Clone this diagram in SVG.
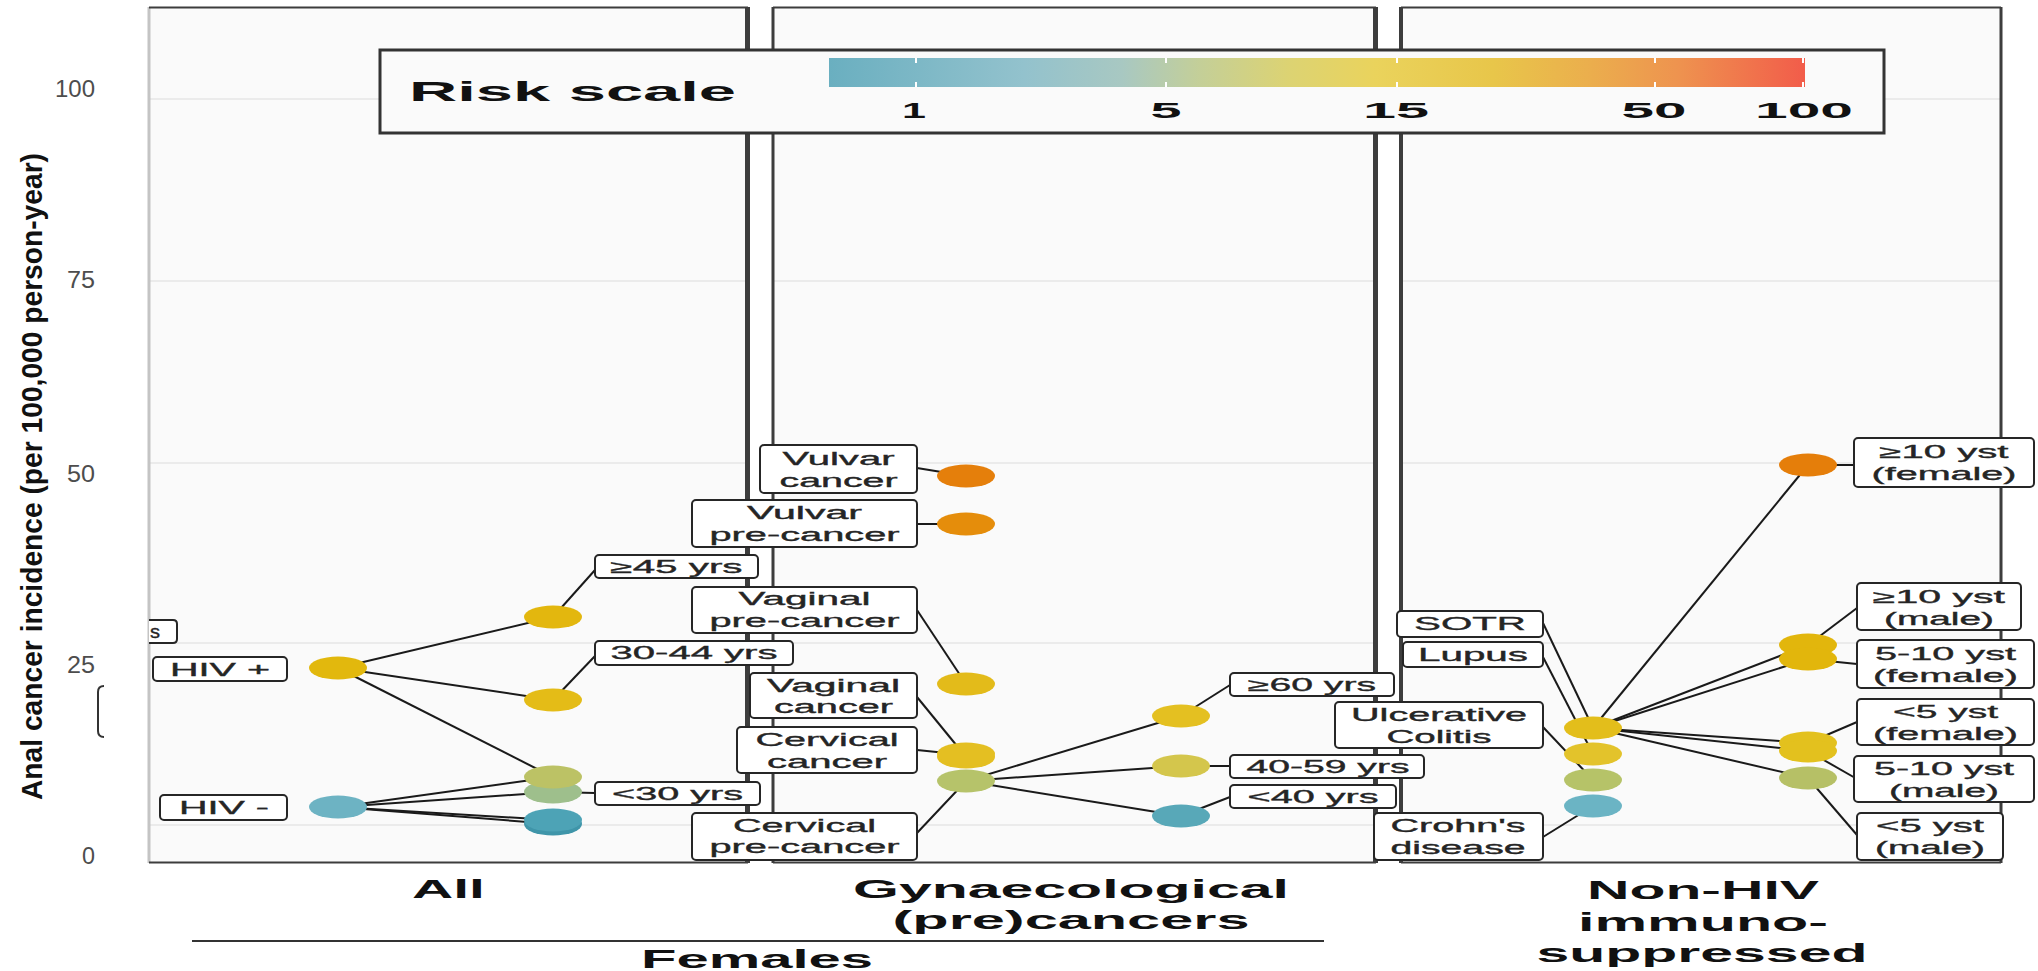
<svg xmlns="http://www.w3.org/2000/svg" width="2038" height="971" viewBox="0 0 2038 971">
<style>
.bg{fill:#FAFAFA}
.grid line{stroke:#EBEBEB;stroke-width:2}
.bd{stroke:#3d3d3d;fill:none}
.lbl{fill:#ffffff;stroke:#262626;stroke-width:2}
.t{font-family:"Liberation Sans",Arial,sans-serif;font-size:18px;fill:#252525;stroke:#252525;stroke-width:0.35;text-anchor:middle}
.tick{font-family:"Liberation Sans",Arial,sans-serif;font-size:23px;fill:#4d4d4d;text-anchor:end}
.b{font-family:"Liberation Sans",Arial,sans-serif;font-weight:bold;fill:#111111}
.cx line{stroke:#1a1a1a;stroke-width:2}
.wt{stroke:#ffffff;stroke-width:2}
</style>
<defs>
<linearGradient id="risk" x1="0" y1="0" x2="1" y2="0">
<stop offset="0" stop-color="#6AAFC0"/>
<stop offset="0.2" stop-color="#93C2CD"/>
<stop offset="0.3" stop-color="#A8C8C2"/>
<stop offset="0.38" stop-color="#C4CF98"/>
<stop offset="0.47" stop-color="#DCD373"/>
<stop offset="0.56" stop-color="#EAD35C"/>
<stop offset="0.68" stop-color="#E8C64A"/>
<stop offset="0.78" stop-color="#EBAE4D"/>
<stop offset="0.87" stop-color="#EE934F"/>
<stop offset="1" stop-color="#F25C4A"/>
</linearGradient>
</defs>
<rect width="2038" height="971" fill="#ffffff"/>

<g id="panels">
<rect class="bg" x="149" y="7" width="599" height="856"/>
<rect class="bg" x="773" y="7" width="603" height="856"/>
<rect class="bg" x="1401" y="7" width="600" height="856"/>
<g class="grid">
<line x1="150" y1="99" x2="746" y2="99"/><line x1="150" y1="281" x2="746" y2="281"/><line x1="150" y1="463" x2="746" y2="463"/><line x1="150" y1="643" x2="746" y2="643"/><line x1="150" y1="825" x2="746" y2="825"/>
<line x1="774" y1="99" x2="1374" y2="99"/><line x1="774" y1="281" x2="1374" y2="281"/><line x1="774" y1="463" x2="1374" y2="463"/><line x1="774" y1="643" x2="1374" y2="643"/><line x1="774" y1="825" x2="1374" y2="825"/>
<line x1="1402" y1="99" x2="2000" y2="99"/><line x1="1402" y1="281" x2="2000" y2="281"/><line x1="1402" y1="463" x2="2000" y2="463"/><line x1="1402" y1="643" x2="2000" y2="643"/><line x1="1402" y1="825" x2="2000" y2="825"/>
</g>
<line x1="149" y1="7" x2="149" y2="863" stroke="#c4c4c4" stroke-width="3"/>
<line class="bd" x1="149" y1="7.5" x2="748" y2="7.5" stroke-width="2"/>
<line class="bd" x1="149" y1="862.5" x2="748" y2="862.5" stroke-width="2"/>
<line class="bd" x1="747.5" y1="7" x2="747.5" y2="863" stroke-width="5" stroke="#4a4a4a"/>
<line class="bd" x1="773" y1="7.5" x2="1376" y2="7.5" stroke-width="2"/>
<line class="bd" x1="773" y1="862.5" x2="1376" y2="862.5" stroke-width="2"/>
<line class="bd" x1="773" y1="7" x2="773" y2="863" stroke-width="3" stroke="#222"/>
<line class="bd" x1="1375.5" y1="7" x2="1375.5" y2="863" stroke-width="5" stroke="#4a4a4a"/>
<line class="bd" x1="1401" y1="7.5" x2="2001" y2="7.5" stroke-width="2"/>
<line class="bd" x1="1401" y1="862.5" x2="2001" y2="862.5" stroke-width="2"/>
<line class="bd" x1="1401" y1="7" x2="1401" y2="863" stroke-width="4" stroke="#222"/>
<line class="bd" x1="2001" y1="7" x2="2001" y2="863" stroke-width="3" stroke="#555"/>
</g>

<g id="y-axis">
<text class="tick" x="95" y="97" textLength="40" lengthAdjust="spacingAndGlyphs">100</text>
<text class="tick" x="95" y="288" textLength="28" lengthAdjust="spacingAndGlyphs">75</text>
<text class="tick" x="95" y="482" textLength="28" lengthAdjust="spacingAndGlyphs">50</text>
<text class="tick" x="95" y="673" textLength="28" lengthAdjust="spacingAndGlyphs">25</text>
<text class="tick" x="95" y="864" textLength="13" lengthAdjust="spacingAndGlyphs">0</text>
<text class="b" transform="translate(42,476.5) rotate(-90)" font-size="29" text-anchor="middle" textLength="647" lengthAdjust="spacingAndGlyphs">Anal cancer incidence (per 100,000 person-year)</text>
<path d="M104,686 Q98,686 98,692 V731 Q98,737 104,737" fill="none" stroke="#333" stroke-width="2"/>
</g>

<g id="legend">
<rect x="380" y="50" width="1504" height="83" fill="#FAFAFA" stroke="#333" stroke-width="3"/>
<text class="b" x="409" y="101" font-size="28" textLength="327" lengthAdjust="spacingAndGlyphs">Risk scale</text>
<rect x="829" y="58" width="976" height="29" fill="url(#risk)"/>
<line class="wt" x1="916" y1="58" x2="916" y2="63"/><line class="wt" x1="916" y1="82" x2="916" y2="87"/>
<line class="wt" x1="1166" y1="58" x2="1166" y2="63"/><line class="wt" x1="1166" y1="82" x2="1166" y2="87"/>
<line class="wt" x1="1397" y1="58" x2="1397" y2="63"/><line class="wt" x1="1397" y1="82" x2="1397" y2="87"/>
<line class="wt" x1="1655" y1="58" x2="1655" y2="63"/><line class="wt" x1="1655" y1="82" x2="1655" y2="87"/>
<line class="wt" x1="1803" y1="58" x2="1803" y2="63"/><line class="wt" x1="1803" y1="82" x2="1803" y2="87"/>
<text class="b" x="914" y="118" font-size="22" text-anchor="middle" textLength="24" lengthAdjust="spacingAndGlyphs">1</text>
<text class="b" x="1166" y="118" font-size="22" text-anchor="middle" textLength="31" lengthAdjust="spacingAndGlyphs">5</text>
<text class="b" x="1396" y="118" font-size="22" text-anchor="middle" textLength="66" lengthAdjust="spacingAndGlyphs">15</text>
<text class="b" x="1654" y="118" font-size="22" text-anchor="middle" textLength="65" lengthAdjust="spacingAndGlyphs">50</text>
<text class="b" x="1804" y="118" font-size="22" text-anchor="middle" textLength="98" lengthAdjust="spacingAndGlyphs">100</text>
</g>

<g id="connectors" class="cx">
<line x1="338" y1="668" x2="553" y2="617"/>
<line x1="338" y1="668" x2="553" y2="700"/>
<line x1="338" y1="668" x2="553" y2="777"/>
<line x1="338" y1="807" x2="553" y2="777"/>
<line x1="338" y1="807" x2="553" y2="792"/>
<line x1="338" y1="807" x2="553" y2="820"/>
<line x1="338" y1="807" x2="553" y2="824"/>
<line x1="595" y1="570" x2="553" y2="617"/>
<line x1="595" y1="656" x2="553" y2="700"/>
<line x1="595" y1="793" x2="553" y2="792"/>
<line x1="917" y1="468" x2="966" y2="476"/>
<line x1="917" y1="524" x2="966" y2="524"/>
<line x1="917" y1="610" x2="966" y2="684"/>
<line x1="917" y1="697" x2="966" y2="757"/>
<line x1="917" y1="750" x2="966" y2="755"/>
<line x1="917" y1="833" x2="966" y2="781"/>
<line x1="966" y1="781" x2="1181" y2="716"/>
<line x1="966" y1="781" x2="1181" y2="766"/>
<line x1="966" y1="781" x2="1181" y2="816"/>
<line x1="1230" y1="685" x2="1181" y2="716"/>
<line x1="1230" y1="766" x2="1181" y2="766"/>
<line x1="1230" y1="797" x2="1181" y2="816"/>
<line x1="1543" y1="623" x2="1593" y2="728"/>
<line x1="1543" y1="657" x2="1593" y2="754"/>
<line x1="1543" y1="727" x2="1593" y2="780"/>
<line x1="1543" y1="837" x2="1593" y2="806"/>
<line x1="1593" y1="728" x2="1808" y2="465"/>
<line x1="1593" y1="728" x2="1808" y2="645"/>
<line x1="1593" y1="728" x2="1808" y2="659"/>
<line x1="1593" y1="728" x2="1808" y2="743"/>
<line x1="1593" y1="728" x2="1808" y2="751"/>
<line x1="1593" y1="728" x2="1808" y2="778"/>
<line x1="1808" y1="465" x2="1854" y2="465"/>
<line x1="1857" y1="608" x2="1808" y2="645"/>
<line x1="1808" y1="659" x2="1857" y2="664"/>
<line x1="1857" y1="722" x2="1808" y2="743"/>
<line x1="1808" y1="751" x2="1857" y2="779"/>
<line x1="1808" y1="778" x2="1857" y2="835"/>
</g>

<g id="n-clipped">
<path d="M149,620 H173 Q177,620 177,624 V639 Q177,643 173,643 H149" fill="#fff" stroke="#262626" stroke-width="2"/>
<text class="t" x="150" y="638" style="text-anchor:start" textLength="10" lengthAdjust="spacingAndGlyphs">s</text>
</g>
<g id="n-hiv-pos">
<ellipse cx="338" cy="668" rx="29" ry="11.5" fill="#E2B80D"/>
<rect class="lbl" x="153" y="657" width="134" height="24" rx="4"/>
<text class="t" x="220" y="676" textLength="100" lengthAdjust="spacingAndGlyphs">HIV +</text>
</g>
<g id="n-hiv-neg">
<ellipse cx="338" cy="807" rx="29" ry="11.5" fill="#6DB3C3"/>
<rect class="lbl" x="160" y="795" width="127" height="25" rx="4"/>
<text class="t" x="224" y="814" textLength="90" lengthAdjust="spacingAndGlyphs">HIV -</text>
</g>
<g id="n-age45">
<ellipse cx="553" cy="617" rx="29" ry="11.5" fill="#E3B70E"/>
<rect class="lbl" x="595" y="555" width="163" height="23" rx="4"/>
<text class="t" x="676.5" y="573" textLength="132" lengthAdjust="spacingAndGlyphs">≥45 yrs</text>
</g>
<g id="n-age30-44">
<ellipse cx="553" cy="700" rx="29" ry="11.5" fill="#E4BC17"/>
<rect class="lbl" x="595" y="641" width="198" height="24" rx="4"/>
<text class="t" x="694" y="659" textLength="167" lengthAdjust="spacingAndGlyphs">30-44 yrs</text>
</g>
<g id="n-age30">
<ellipse cx="553" cy="824" rx="29" ry="11.5" fill="#3F95A9"/>
<ellipse cx="553" cy="820" rx="29" ry="11.5" fill="#4DA3B6"/>
<ellipse cx="553" cy="792" rx="29" ry="11.5" fill="#9EBF8C"/>
<ellipse cx="553" cy="777" rx="29" ry="11.5" fill="#BCC265"/>
<rect class="lbl" x="595" y="782" width="165" height="23" rx="4"/>
<text class="t" x="677.5" y="800" textLength="131" lengthAdjust="spacingAndGlyphs">&lt;30 yrs</text>
</g>

<g id="n-vulvar-cancer">
<ellipse cx="966" cy="476" rx="29" ry="11.5" fill="#E57F0B"/>
<rect class="lbl" x="760" y="445" width="157" height="48" rx="4"/>
<text class="t" x="838.5" y="465" textLength="112" lengthAdjust="spacingAndGlyphs">Vulvar</text>
<text class="t" x="838.5" y="487" textLength="118" lengthAdjust="spacingAndGlyphs">cancer</text>
</g>
<g id="n-vulvar-pre">
<ellipse cx="966" cy="524" rx="29" ry="11.5" fill="#E58D0B"/>
<rect class="lbl" x="692" y="500" width="225" height="47" rx="4"/>
<text class="t" x="804.5" y="519" textLength="115" lengthAdjust="spacingAndGlyphs">Vulvar</text>
<text class="t" x="804.5" y="541" textLength="190" lengthAdjust="spacingAndGlyphs">pre-cancer</text>
</g>
<g id="n-vaginal-pre">
<ellipse cx="966" cy="684" rx="29" ry="11.5" fill="#E3BB1A"/>
<rect class="lbl" x="692" y="587" width="225" height="46" rx="4"/>
<text class="t" x="804.5" y="605" textLength="132" lengthAdjust="spacingAndGlyphs">Vaginal</text>
<text class="t" x="804.5" y="627" textLength="190" lengthAdjust="spacingAndGlyphs">pre-cancer</text>
</g>
<g id="n-vaginal-cancer">
<ellipse cx="966" cy="757" rx="29" ry="11.5" fill="#E4BF22"/>
<rect class="lbl" x="750" y="673" width="167" height="45" rx="4"/>
<text class="t" x="833.5" y="692" textLength="133" lengthAdjust="spacingAndGlyphs">Vaginal</text>
<text class="t" x="833.5" y="713" textLength="119" lengthAdjust="spacingAndGlyphs">cancer</text>
</g>
<g id="n-cervical-cancer">
<ellipse cx="966" cy="754" rx="29" ry="11.5" fill="#E4BF22"/>
<rect class="lbl" x="737" y="727" width="180" height="46" rx="4"/>
<text class="t" x="827" y="746" textLength="143" lengthAdjust="spacingAndGlyphs">Cervical</text>
<text class="t" x="827" y="768" textLength="120" lengthAdjust="spacingAndGlyphs">cancer</text>
</g>
<g id="n-cervical-pre">
<ellipse cx="966" cy="781" rx="29" ry="11.5" fill="#B6C36A"/>
<rect class="lbl" x="692" y="813" width="225" height="47" rx="4"/>
<text class="t" x="804.5" y="832" textLength="143" lengthAdjust="spacingAndGlyphs">Cervical</text>
<text class="t" x="804.5" y="853" textLength="190" lengthAdjust="spacingAndGlyphs">pre-cancer</text>
</g>
<g id="n-age60">
<ellipse cx="1181" cy="716" rx="29" ry="11.5" fill="#E4C021"/>
<rect class="lbl" x="1230" y="673" width="164" height="23" rx="4"/>
<text class="t" x="1312" y="691" textLength="128" lengthAdjust="spacingAndGlyphs">≥60 yrs</text>
</g>
<g id="n-age40-59">
<ellipse cx="1181" cy="766" rx="29" ry="11.5" fill="#D4C64C"/>
<rect class="lbl" x="1230" y="755" width="194" height="23" rx="4"/>
<text class="t" x="1328" y="773" textLength="163" lengthAdjust="spacingAndGlyphs">40-59 yrs</text>
</g>
<g id="n-age40">
<ellipse cx="1181" cy="816" rx="29" ry="11.5" fill="#58A8B8"/>
<rect class="lbl" x="1230" y="785" width="166" height="23" rx="4"/>
<text class="t" x="1313" y="803" textLength="131" lengthAdjust="spacingAndGlyphs">&lt;40 yrs</text>
</g>

<g id="n-sotr">
<ellipse cx="1593" cy="728" rx="29" ry="11.5" fill="#E3BE1B"/>
<rect class="lbl" x="1397" y="611" width="146" height="26" rx="4"/>
<text class="t" x="1470" y="630" textLength="112" lengthAdjust="spacingAndGlyphs">SOTR</text>
</g>
<g id="n-lupus">
<ellipse cx="1593" cy="754" rx="29" ry="11.5" fill="#E3C32B"/>
<rect class="lbl" x="1403" y="642" width="140" height="25" rx="4"/>
<text class="t" x="1473" y="661" textLength="110" lengthAdjust="spacingAndGlyphs">Lupus</text>
</g>
<g id="n-uc">
<ellipse cx="1593" cy="780" rx="29" ry="11.5" fill="#B6C368"/>
<rect class="lbl" x="1335" y="702" width="208" height="46" rx="4"/>
<text class="t" x="1439" y="721" textLength="176" lengthAdjust="spacingAndGlyphs">Ulcerative</text>
<text class="t" x="1439" y="743" textLength="105" lengthAdjust="spacingAndGlyphs">Colitis</text>
</g>
<g id="n-crohn">
<ellipse cx="1593" cy="806" rx="29" ry="11.5" fill="#6BB4C4"/>
<rect class="lbl" x="1374" y="813" width="169" height="47" rx="4"/>
<text class="t" x="1458" y="832" textLength="135" lengthAdjust="spacingAndGlyphs">Crohn's</text>
<text class="t" x="1458" y="854" textLength="135" lengthAdjust="spacingAndGlyphs">disease</text>
</g>
<g id="n-f10">
<ellipse cx="1808" cy="465" rx="29" ry="11.5" fill="#E57E0A"/>
<rect class="lbl" x="1854" y="438" width="180" height="49" rx="4"/>
<text class="t" x="1944" y="458" textLength="129" lengthAdjust="spacingAndGlyphs">≥10 yst</text>
<text class="t" x="1944" y="480" textLength="145" lengthAdjust="spacingAndGlyphs">(female)</text>
</g>
<g id="n-m10">
<ellipse cx="1808" cy="645" rx="29" ry="11.5" fill="#E2B60C"/>
<rect class="lbl" x="1857" y="583" width="164" height="47" rx="4"/>
<text class="t" x="1939" y="603" textLength="132" lengthAdjust="spacingAndGlyphs">≥10 yst</text>
<text class="t" x="1939" y="625" textLength="110" lengthAdjust="spacingAndGlyphs">(male)</text>
</g>
<g id="n-f5-10">
<ellipse cx="1808" cy="659" rx="29" ry="11.5" fill="#E2B60C"/>
<rect class="lbl" x="1857" y="640" width="177" height="48" rx="4"/>
<text class="t" x="1945.5" y="660" textLength="141" lengthAdjust="spacingAndGlyphs">5-10 yst</text>
<text class="t" x="1945.5" y="682" textLength="145" lengthAdjust="spacingAndGlyphs">(female)</text>
</g>
<g id="n-f5">
<ellipse cx="1808" cy="743" rx="29" ry="11.5" fill="#E3C11E"/>
<rect class="lbl" x="1857" y="699" width="177" height="46" rx="4"/>
<text class="t" x="1945.5" y="718" textLength="105" lengthAdjust="spacingAndGlyphs">&lt;5 yst</text>
<text class="t" x="1945.5" y="740" textLength="145" lengthAdjust="spacingAndGlyphs">(female)</text>
</g>
<g id="n-m5-10">
<ellipse cx="1808" cy="751" rx="29" ry="11.5" fill="#E3C11E"/>
<rect class="lbl" x="1854" y="756" width="180" height="46" rx="4"/>
<text class="t" x="1944" y="775" textLength="140" lengthAdjust="spacingAndGlyphs">5-10 yst</text>
<text class="t" x="1944" y="797" textLength="110" lengthAdjust="spacingAndGlyphs">(male)</text>
</g>
<g id="n-m5">
<ellipse cx="1808" cy="778" rx="29" ry="11.5" fill="#B6C066"/>
<rect class="lbl" x="1857" y="813" width="146" height="47" rx="4"/>
<text class="t" x="1930" y="832" textLength="108" lengthAdjust="spacingAndGlyphs">&lt;5 yst</text>
<text class="t" x="1930" y="854" textLength="110" lengthAdjust="spacingAndGlyphs">(male)</text>
</g>

<g id="x-axis">
<text class="b" x="448.5" y="898" font-size="25" text-anchor="middle" textLength="73" lengthAdjust="spacingAndGlyphs">All</text>
<text class="b" x="1071" y="898" font-size="25" text-anchor="middle" textLength="436" lengthAdjust="spacingAndGlyphs">Gynaecological</text>
<text class="b" x="1071" y="929" font-size="25" text-anchor="middle" textLength="357" lengthAdjust="spacingAndGlyphs">(pre)cancers</text>
<line x1="192" y1="941" x2="1324" y2="941" stroke="#333" stroke-width="2"/>
<text class="b" x="757" y="968" font-size="25" text-anchor="middle" textLength="232" lengthAdjust="spacingAndGlyphs">Females</text>
<text class="b" x="1703" y="899" font-size="25" text-anchor="middle" textLength="232" lengthAdjust="spacingAndGlyphs">Non-HIV</text>
<text class="b" x="1703" y="931" font-size="25" text-anchor="middle" textLength="250" lengthAdjust="spacingAndGlyphs">immuno-</text>
<text class="b" x="1702" y="962" font-size="25" text-anchor="middle" textLength="331" lengthAdjust="spacingAndGlyphs">suppressed</text>
</g>
</svg>
